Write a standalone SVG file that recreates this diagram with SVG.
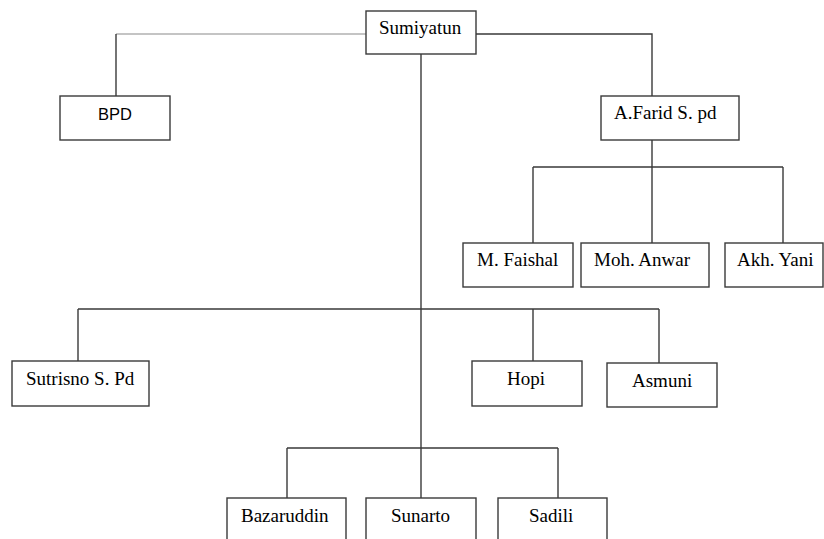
<svg xmlns="http://www.w3.org/2000/svg" width="824" height="539" viewBox="0 0 824 539">
<style>
.box{fill:#fff;stroke:#3a3a3a;stroke-width:1.4}
.ln{fill:none;stroke:#3a3a3a;stroke-width:1.4}
.lt{fill:none;stroke:#8a8a8a;stroke-width:1.2}
.t{font-family:"Liberation Serif","Times New Roman",serif;font-size:19px;fill:#000}
.s{font-family:"Liberation Sans",Arial,sans-serif;font-size:16.5px;fill:#000}
</style>
<rect width="824" height="539" fill="#fff"/>
<g id="connectors">
<path class="lt" d="M366,34 H116"/>
<path class="ln" d="M116,34 V96"/>
<path class="ln" d="M476,34 H652 V96"/>
<path class="ln" d="M421,54 V498"/>
<path class="ln" d="M652,140 V243 M533,167 H783 M533,167 V243 M783,167 V243"/>
<path class="ln" d="M78,309 H659 M78,309 V361 M533,309 V361 M659,309 V363"/>
<path class="ln" d="M287,448 H558 M287,448 V498 M558,448 V498"/>
</g>
<g id="sumiyatun"><rect class="box" x="366" y="11" width="110" height="43"/><text class="t" x="379" y="34">Sumiyatun</text></g>
<g id="bpd"><rect class="box" x="60" y="96" width="110" height="44"/><text class="s" x="98" y="120">BPD</text></g>
<g id="afarid"><rect class="box" x="601" y="96" width="138" height="44"/><text class="t" x="614" y="119">A.Farid S. pd</text></g>
<g id="mfaishal"><rect class="box" x="463" y="243" width="110" height="44"/><text class="t" x="477" y="266">M. Faishal</text></g>
<g id="mohanwar"><rect class="box" x="581" y="243" width="128" height="44"/><text class="t" x="594" y="266">Moh. Anwar</text></g>
<g id="akhyani"><rect class="box" x="725" y="243" width="98" height="44"/><text class="t" x="737" y="266">Akh. Yani</text></g>
<g id="sutrisno"><rect class="box" x="12" y="361" width="137" height="45"/><text class="t" x="26" y="385">Sutrisno S. Pd</text></g>
<g id="hopi"><rect class="box" x="472" y="361" width="110" height="45"/><text class="t" x="507" y="385">Hopi</text></g>
<g id="asmuni"><rect class="box" x="607" y="363" width="110" height="44"/><text class="t" x="632" y="387">Asmuni</text></g>
<g id="bazaruddin"><rect class="box" x="227" y="498" width="119" height="50"/><text class="t" x="241" y="522">Bazaruddin</text></g>
<g id="sunarto"><rect class="box" x="366" y="498" width="110" height="50"/><text class="t" x="391" y="522">Sunarto</text></g>
<g id="sadili"><rect class="box" x="498" y="498" width="109" height="50"/><text class="t" x="529" y="522">Sadili</text></g>
</svg>
